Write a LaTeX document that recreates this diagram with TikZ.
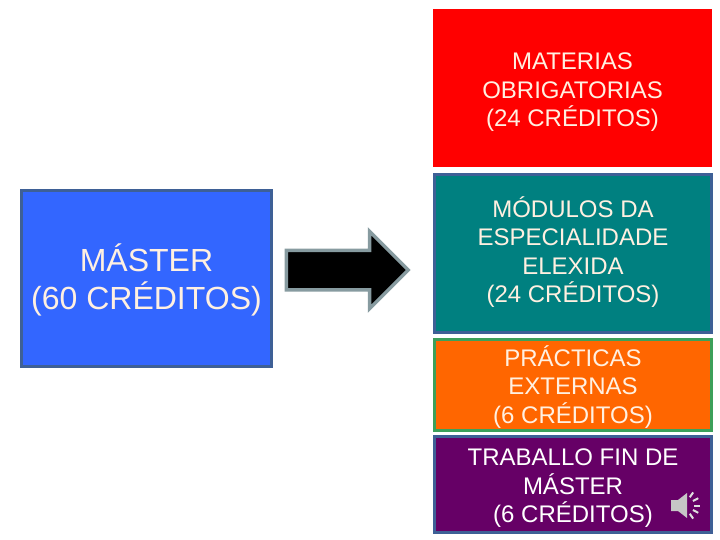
\documentclass[tikz,border=0pt]{standalone}
\usepackage{fontspec}
\setmainfont{Liberation Sans}
\usepackage{xcolor}
\usetikzlibrary{shapes.arrows,calc}
\definecolor{blueBox}{RGB}{51,102,255}
\definecolor{blueEdge}{RGB}{62,96,150}
\definecolor{tealBox}{RGB}{0,128,128}
\definecolor{orangeBox}{RGB}{255,102,0}
\definecolor{greenEdge}{RGB}{60,160,90}
\definecolor{purpleBox}{RGB}{102,0,102}
\definecolor{creamText}{RGB}{255,240,225}
\definecolor{arrowEdge}{RGB}{135,155,160}

\begin{document}
\begin{tikzpicture}[x=1pt, y=-1pt, every node/.style={font=\fontsize{24}{28.5}\selectfont, align=center}, box/.style={draw=blueEdge, line width=3pt, inner sep=0pt, minimum width=277pt, text=creamText}]
      \useasboundingbox (0,0) rectangle (720,540);
      \node[draw=none, fill=red, inner sep=0pt, minimum width=279pt, minimum height=158pt, text=creamText] (oblig) at (572.5,88) {\rule{0pt}{25pt}MATERIAS\\OBRIGATORIAS\\(24 CRÉDITOS)};
      \node[box, fill=tealBox, minimum height=158pt] (modulos) at (573,253.5) {MÓDULOS DA\\ESPECIALIDADE\\ELEXIDA\\\rule[-8pt]{0pt}{1pt}(24 CRÉDITOS)};
      \node[box, draw=greenEdge, fill=orangeBox, minimum height=91pt] (practicas) at (573,385) {\rule{0pt}{24pt}PRÁCTICAS\\EXTERNAS\\(6 CRÉDITOS)};
      \node[box, fill=purpleBox, text=white, minimum height=96pt] (tfm) at (573,484) {\rule{0pt}{25pt}TRABALLO FIN DE\\MÁSTER\\(6 CRÉDITOS)};
      \node[box, fill=blueBox, minimum width=250pt, minimum height=176pt, font=\fontsize{32}{38}\selectfont] (master) at (146.5,278.5) {\rule{0pt}{30pt}MÁSTER\\(60 CRÉDITOS)};
      \node[single arrow, draw=arrowEdge, fill=black, line width=3.5pt, inner sep=18pt, minimum width=76pt, minimum height=122pt, single arrow head extend=19pt, anchor=tail] (flecha) at (284.5,270) {};
      % altofalante
      \fill[gray!45] (671,500) -- (678,500) -- (687,493) -- (687,518) -- (678,511) -- (671,511) -- cycle;
      \foreach \ang in {-55,-27,0,27,55}
        \draw[gray!25, line width=2pt] ($(684,505.5)+(\ang:10)$) -- ($(684,505.5)+(\ang:16)$);
    \end{tikzpicture}
\end{document}
